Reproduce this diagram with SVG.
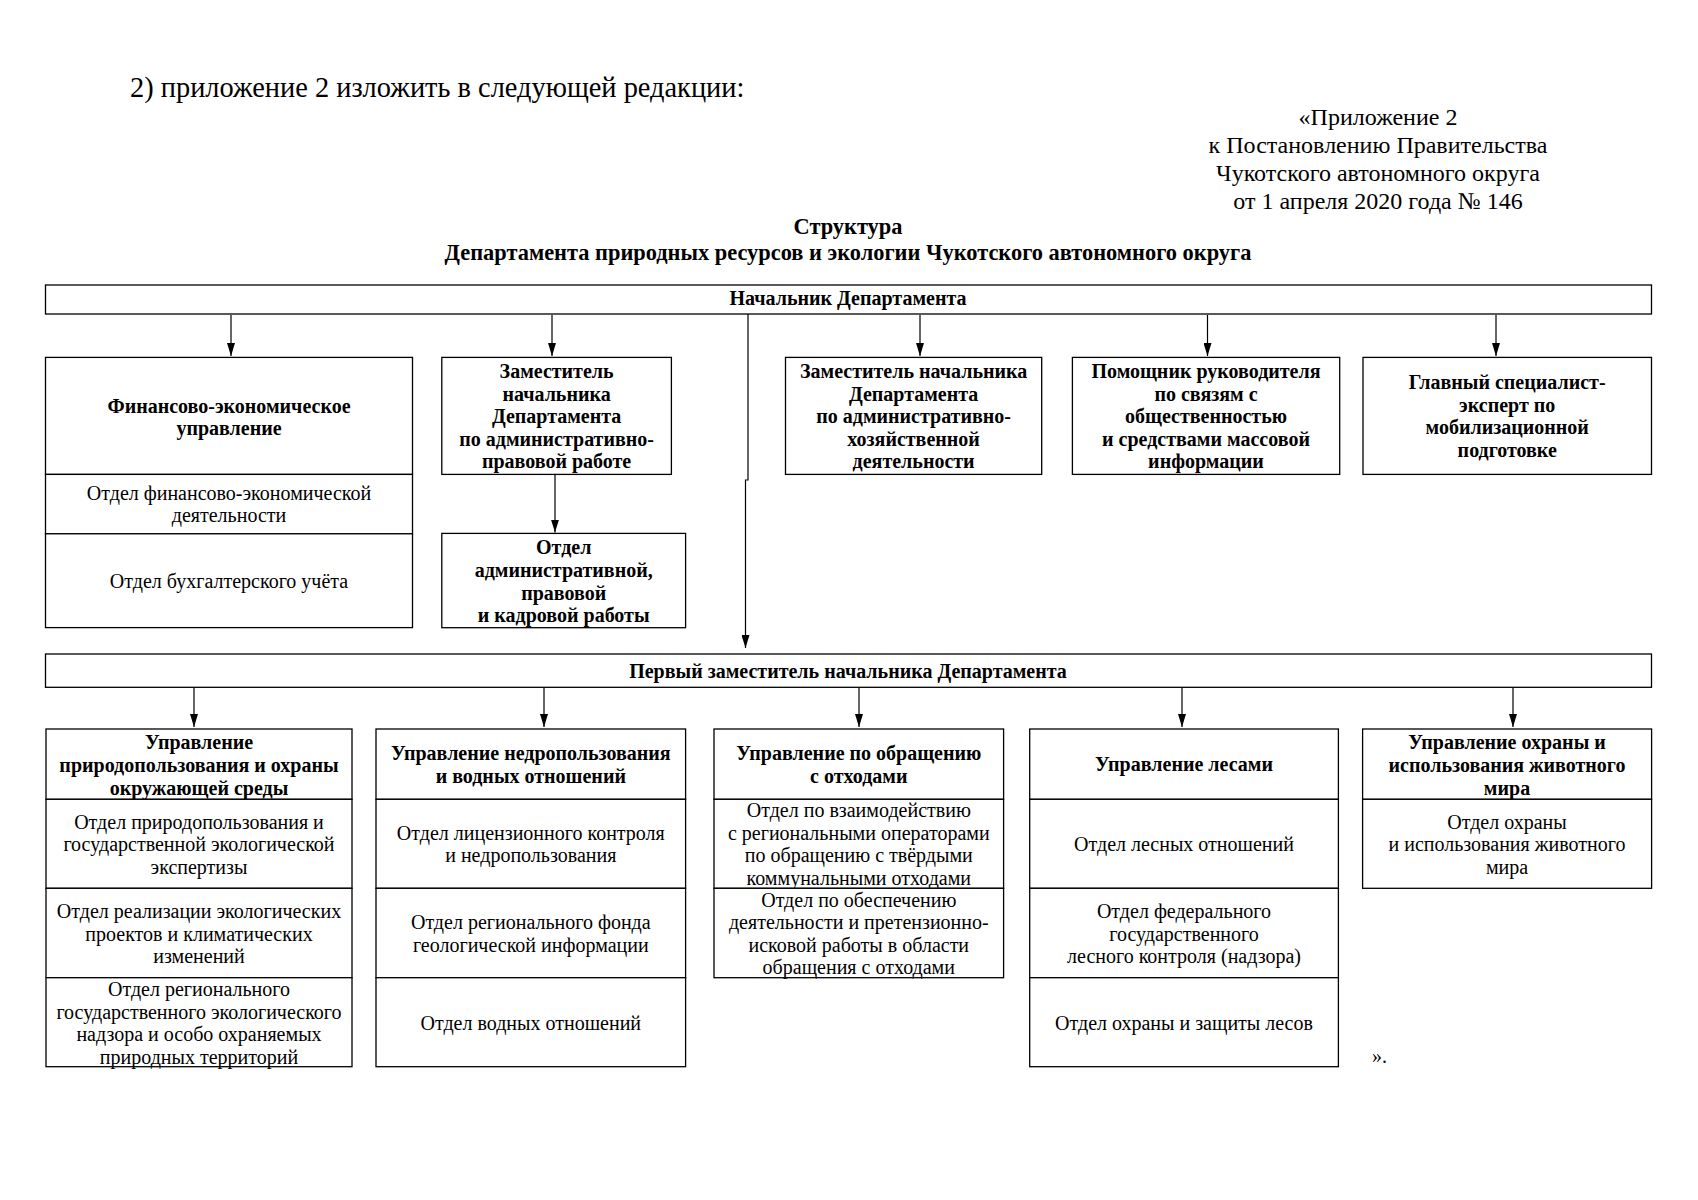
<svg xmlns="http://www.w3.org/2000/svg" width="1698" height="1200" viewBox="0 0 1698 1200">
<style>
text{font-family:"Liberation Serif","Times New Roman",serif;fill:#000}
.b{font-weight:bold;font-size:20px;text-anchor:middle}
.r{font-size:20px;text-anchor:middle}
.box{fill:#fff;stroke:#000;stroke-width:1.3}
.c{fill:none;stroke:#000;stroke-width:1.2}
</style>
<defs>
<marker id="ah" viewBox="0 0 8 13" refX="4" refY="13" markerWidth="8" markerHeight="13" markerUnits="userSpaceOnUse" orient="0">
<path d="M0,0 L8,0 L4,13 z" fill="#000"/>
</marker>
</defs>
<rect width="1698" height="1200" fill="#fff"/>

<text x="130" y="97" style="font-size:28.4px">2) приложение 2 изложить в следующей редакции:</text>
<g style="font-size:24px;text-anchor:middle">
<text x="1378" y="125">«Приложение 2</text>
<text x="1378" y="153">к Постановлению Правительства</text>
<text x="1378" y="181">Чукотского автономного округа</text>
<text x="1378" y="209">от 1 апреля 2020 года № 146</text>
</g>
<g style="font-size:22.4px;font-weight:bold;text-anchor:middle">
<text x="848" y="234">Структура</text>
<text x="848" y="260">Департамента природных ресурсов и экологии Чукотского автономного округа</text>
</g>

<g id="connectors">
<line class="c" x1="231" y1="315" x2="231" y2="356" marker-end="url(#ah)"/>
<line class="c" x1="552" y1="315" x2="552" y2="356" marker-end="url(#ah)"/>
<line class="c" x1="920" y1="315" x2="920" y2="356" marker-end="url(#ah)"/>
<line class="c" x1="1207.5" y1="315" x2="1207.5" y2="356" marker-end="url(#ah)"/>
<line class="c" x1="1496" y1="315" x2="1496" y2="356" marker-end="url(#ah)"/>
<line class="c" x1="555" y1="475" x2="555" y2="532.5" marker-end="url(#ah)"/>
<path class="c" d="M748,314 V480 H745.5 V648" marker-end="url(#ah)"/>
<line class="c" x1="194" y1="688" x2="194" y2="727" marker-end="url(#ah)"/>
<line class="c" x1="544" y1="688" x2="544" y2="727" marker-end="url(#ah)"/>
<line class="c" x1="859" y1="688" x2="859" y2="727" marker-end="url(#ah)"/>
<line class="c" x1="1182" y1="688" x2="1182" y2="727" marker-end="url(#ah)"/>
<line class="c" x1="1513" y1="688" x2="1513" y2="727" marker-end="url(#ah)"/>
</g>

<g id="head">
<rect class="box" x="45.5" y="285" width="1606" height="29"/>
<text class="b" x="848" y="305">Начальник Департамента</text>
</g>

<g id="fin">
<rect class="box" x="45.5" y="357.4" width="367" height="117"/>
<text class="b" x="229" y="412.5">Финансово-экономическое</text>
<text class="b" x="229" y="435">управление</text>
</g>
<g id="fin1">
<rect class="box" x="45.5" y="474.4" width="367" height="59.4"/>
<text class="r" x="229" y="499.5">Отдел финансово-экономической</text>
<text class="r" x="229" y="522.2">деятельности</text>
</g>
<g id="fin2">
<rect class="box" x="45.5" y="533.8" width="367" height="93.8"/>
<text class="r" x="229" y="588">Отдел бухгалтерского учёта</text>
</g>

<g id="zam-pravo">
<rect class="box" x="441.8" y="357.4" width="229.6" height="117"/>
<text class="b" x="556.6" y="378">Заместитель</text>
<text class="b" x="556.6" y="400.5">начальника</text>
<text class="b" x="556.6" y="423">Департамента</text>
<text class="b" x="556.6" y="445.5">по административно-</text>
<text class="b" x="556.6" y="468">правовой работе</text>
</g>
<g id="otd-adm">
<rect class="box" x="441.8" y="533.4" width="243.8" height="94.3"/>
<text class="b" x="563.7" y="553.5">Отдел</text>
<text class="b" x="563.7" y="576.5">административной,</text>
<text class="b" x="563.7" y="599.5">правовой</text>
<text class="b" x="563.7" y="622">и кадровой работы</text>
</g>

<g id="zam-hoz">
<rect class="box" x="785.5" y="357.4" width="256.2" height="117"/>
<text class="b" x="913.6" y="378">Заместитель начальника</text>
<text class="b" x="913.6" y="400.5">Департамента</text>
<text class="b" x="913.6" y="423">по административно-</text>
<text class="b" x="913.6" y="445.5">хозяйственной</text>
<text class="b" x="913.6" y="468">деятельности</text>
</g>
<g id="pomoshnik">
<rect class="box" x="1072.4" y="357.4" width="267.3" height="117"/>
<text class="b" x="1206" y="378">Помощник руководителя</text>
<text class="b" x="1206" y="400.5">по связям с</text>
<text class="b" x="1206" y="423">общественностью</text>
<text class="b" x="1206" y="445.5">и средствами массовой</text>
<text class="b" x="1206" y="468">информации</text>
</g>
<g id="glavspec">
<rect class="box" x="1363" y="357.4" width="288.5" height="117"/>
<text class="b" x="1507.2" y="389">Главный специалист-</text>
<text class="b" x="1507.2" y="411.5">эксперт по</text>
<text class="b" x="1507.2" y="434">мобилизационной</text>
<text class="b" x="1507.2" y="456.5">подготовке</text>
</g>

<g id="first-zam">
<rect class="box" x="45.5" y="654" width="1606" height="33.3"/>
<text class="b" x="848" y="677.5">Первый заместитель начальника Департамента</text>
</g>

<g id="upr-prirod">
<rect class="box" x="46" y="729" width="306" height="70.3"/>
<text class="b" x="199" y="748.5">Управление</text>
<text class="b" x="199" y="771.5">природопользования и охраны</text>
<text class="b" x="199" y="794.5">окружающей среды</text>
</g>
<g id="prirod1">
<rect class="box" x="46" y="799.3" width="306" height="89"/>
<text class="r" x="199" y="828.5">Отдел природопользования и</text>
<text class="r" x="199" y="851">государственной экологической</text>
<text class="r" x="199" y="873.5">экспертизы</text>
</g>
<g id="prirod2">
<rect class="box" x="46" y="888.3" width="306" height="89.4"/>
<text class="r" x="199" y="918">Отдел реализации экологических</text>
<text class="r" x="199" y="940.5">проектов и климатических</text>
<text class="r" x="199" y="963">изменений</text>
</g>
<g id="prirod3">
<rect class="box" x="46" y="977.7" width="306" height="89"/>
<text class="r" x="199" y="996">Отдел регионального</text>
<text class="r" x="199" y="1018.5">государственного экологического</text>
<text class="r" x="199" y="1041">надзора и особо охраняемых</text>
<text class="r" x="199" y="1063.5">природных территорий</text>
</g>

<g id="upr-nedra">
<rect class="box" x="376" y="729" width="309.6" height="70.3"/>
<text class="b" x="530.8" y="759.5">Управление недропользования</text>
<text class="b" x="530.8" y="782.5">и водных отношений</text>
</g>
<g id="nedra1">
<rect class="box" x="376" y="799.3" width="309.6" height="89"/>
<text class="r" x="530.8" y="839.5">Отдел лицензионного контроля</text>
<text class="r" x="530.8" y="862">и недропользования</text>
</g>
<g id="nedra2">
<rect class="box" x="376" y="888.3" width="309.6" height="89.4"/>
<text class="r" x="530.8" y="929">Отдел регионального фонда</text>
<text class="r" x="530.8" y="951.5">геологической информации</text>
</g>
<g id="nedra3">
<rect class="box" x="376" y="977.7" width="309.6" height="89"/>
<text class="r" x="530.8" y="1029.5">Отдел водных отношений</text>
</g>

<g id="upr-othody">
<rect class="box" x="714" y="729" width="289.6" height="70.3"/>
<text class="b" x="858.8" y="759.5">Управление по обращению</text>
<text class="b" x="858.8" y="782.5">с отходами</text>
</g>
<g id="othody1">
<rect class="box" x="714" y="799.3" width="289.6" height="89"/>
<text class="r" x="858.8" y="817">Отдел по взаимодействию</text>
<text class="r" x="858.8" y="839.5">с региональными операторами</text>
<text class="r" x="858.8" y="862">по обращению с твёрдыми</text>
<text class="r" x="858.8" y="884.5">коммунальными отходами</text>
</g>
<g id="othody2">
<rect class="box" x="714" y="888.3" width="289.6" height="89.4"/>
<text class="r" x="858.8" y="906.5">Отдел по обеспечению</text>
<text class="r" x="858.8" y="929">деятельности и претензионно-</text>
<text class="r" x="858.8" y="951.5">исковой работы в области</text>
<text class="r" x="858.8" y="974">обращения с отходами</text>
</g>

<g id="upr-les">
<rect class="box" x="1029.7" y="729" width="308.7" height="70.3"/>
<text class="b" x="1184" y="771">Управление лесами</text>
</g>
<g id="les1">
<rect class="box" x="1029.7" y="799.3" width="308.7" height="89"/>
<text class="r" x="1184" y="850.5">Отдел лесных отношений</text>
</g>
<g id="les2">
<rect class="box" x="1029.7" y="888.3" width="308.7" height="89.4"/>
<text class="r" x="1184" y="918">Отдел федерального</text>
<text class="r" x="1184" y="940.5">государственного</text>
<text class="r" x="1184" y="963">лесного контроля (надзора)</text>
</g>
<g id="les3">
<rect class="box" x="1029.7" y="977.7" width="308.7" height="89"/>
<text class="r" x="1184" y="1029.5">Отдел охраны и защиты лесов</text>
</g>

<g id="upr-zhivotn">
<rect class="box" x="1362.6" y="729" width="289" height="70.3"/>
<text class="b" x="1507" y="748.5">Управление охраны и</text>
<text class="b" x="1507" y="771.5">использования животного</text>
<text class="b" x="1507" y="794.5">мира</text>
</g>
<g id="zhivotn1">
<rect class="box" x="1362.6" y="799.3" width="289" height="89"/>
<text class="r" x="1507" y="828.5">Отдел охраны</text>
<text class="r" x="1507" y="851">и использования животного</text>
<text class="r" x="1507" y="873.5">мира</text>
</g>

<text x="1372" y="1063" style="font-size:20px">».</text>
</svg>
